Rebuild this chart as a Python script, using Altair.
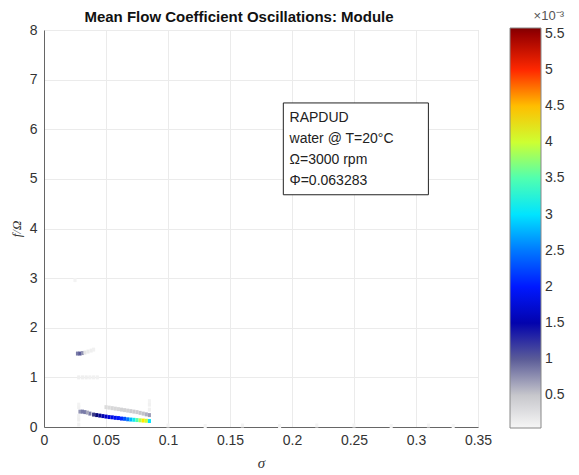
import altair as alt
import pandas as pd

# ---- data (values in units of 1e-3) ----
main_sigma = [0.037, 0.040, 0.0425, 0.045, 0.0475, 0.050, 0.0525, 0.055, 0.0575, 0.060,
              0.0625, 0.065, 0.0675, 0.070, 0.0725, 0.075, 0.0775, 0.080, 0.0825, 0.085]
main_f = [0.27, 0.25, 0.24, 0.23, 0.22, 0.21, 0.20, 0.195, 0.185, 0.18,
          0.17, 0.165, 0.155, 0.15, 0.145, 0.14, 0.135, 0.13, 0.125, 0.12]
main_v = [0.9, 1.1, 1.3, 1.4, 1.5, 1.6, 1.7, 1.8, 1.9, 2.0,
          2.1, 2.3, 2.5, 2.8, 3.1, 3.5, 3.9, 4.3, 4.0, 3.0]

low_sigma = [0.029, 0.031, 0.033, 0.035]
low_f = [0.31, 0.31, 0.30, 0.29]
low_v = [0.8, 0.9, 0.9, 0.7]

upper_sigma = [0.050, 0.0525, 0.055, 0.0575, 0.060, 0.0625, 0.065, 0.0675, 0.070,
               0.0725, 0.075, 0.0775, 0.080, 0.0825, 0.085]
upper_f = [0.40, 0.39, 0.38, 0.37, 0.36, 0.35, 0.34, 0.33, 0.32,
           0.31, 0.30, 0.285, 0.27, 0.255, 0.24]
upper_v = [0.3, 0.3, 0.35, 0.35, 0.35, 0.4, 0.4, 0.4, 0.45,
           0.45, 0.45, 0.5, 0.55, 0.65, 0.75]

h15_sigma = [0.027, 0.029, 0.031, 0.033, 0.0355, 0.038, 0.040]
h15_f = [1.48, 1.48, 1.49, 1.50, 1.52, 1.54, 1.56]
h15_v = [0.9, 1.0, 0.8, 0.2, 0.15, 0.12, 0.1]

h10_sigma = [0.028, 0.031, 0.034, 0.037, 0.040, 0.043]
h10_f = [1.0, 1.0, 1.0, 1.0, 1.0, 1.0]
h10_v = [0.12, 0.12, 0.12, 0.1, 0.1, 0.1]

vert_sigma = [0.028, 0.028, 0.028, 0.028, 0.028, 0.085, 0.085, 0.085, 0.025]
vert_f = [0.05, 0.15, 0.22, 0.40, 0.45, 0.35, 0.45, 0.52, 2.96]
vert_v = [0.1, 0.12, 0.1, 0.1, 0.08, 0.1, 0.1, 0.08, 0.08]

base_sigma = [0.10, 0.13, 0.16, 0.19, 0.22, 0.25, 0.28, 0.31, 0.33]
base_f = [0.03, 0.02, 0.03, 0.02, 0.03, 0.03, 0.02, 0.03, 0.02]
base_v = [0.08, 0.07, 0.08, 0.07, 0.08, 0.07, 0.07, 0.07, 0.06]

x_ticks = [0, 0.05, 0.1, 0.15, 0.2, 0.25, 0.3, 0.35]
y_ticks = [0, 1, 2, 3, 4, 5, 6, 7, 8]
cbar_ticks = [0.5, 1, 1.5, 2, 2.5, 3, 3.5, 4, 4.5, 5, 5.5]

cmap_stops = [0.05, 0.3, 0.55, 0.85, 1.1, 1.3, 1.6, 2.0, 2.5, 3.0, 3.5, 3.85, 4.2, 4.6, 5.0, 5.3, 5.58]
cmap_colors = ["#f6f6f6", "#dcdcdc", "#c2c2c8", "#8a8cb0", "#3c3c88", "#0a0a78", "#0000c8", "#0018ff",
               "#0078ff", "#00e4ff", "#50ffb0", "#a8ff58", "#ffff00", "#ffa800", "#ff2800", "#d40000", "#800000"]

info_lines = ["RAPDUD", "water @ T=20°C", "Ω=3000 rpm", "Φ=0.063283"]
info_f = [6.23, 5.81, 5.38, 4.96]

sig = main_sigma + low_sigma + upper_sigma + h15_sigma + h10_sigma + vert_sigma + base_sigma
ff = main_f + low_f + upper_f + h15_f + h10_f + vert_f + base_f
vv = main_v + low_v + upper_v + h15_v + h10_v + vert_v + base_v
df = pd.DataFrame({"sigma": sig, "f": ff, "v": vv})

FONT = "Liberation Sans"

heat = alt.Chart(df).transform_calculate(
    x1="datum.sigma - 0.00125", x2="datum.sigma + 0.00125",
    y1="datum.f - 0.04", y2="datum.f + 0.04",
).mark_rect(strokeWidth=0).encode(
    x=alt.X("x1:Q", scale=alt.Scale(domain=[0, 0.35], nice=False, zero=False),
            axis=alt.Axis(values=x_ticks, format="~g", title="σ", grid=True,
                          gridColor="#ebebeb", domainColor="#666666", ticks=False,
                          labelFontSize=14, labelColor="#333333", labelPadding=6,
                          labelFont=FONT, titleFont="Liberation Serif", titleFontStyle="italic",
                          titleFontWeight="normal", titleFontSize=15, titleColor="#333333",
                          titlePadding=8, labelFlush=False)),
    x2="x2:Q",
    y=alt.Y("y1:Q", scale=alt.Scale(domain=[0, 8], nice=False, zero=False),
            axis=alt.Axis(values=y_ticks, format="~g", title="f/Ω", grid=True,
                          gridColor="#ebebeb", domainColor="#666666", ticks=False,
                          labelFontSize=14, labelColor="#333333", labelPadding=7,
                          labelFont=FONT, titleFont="Liberation Serif", titleFontStyle="italic",
                          titleFontWeight="normal", titleFontSize=13, titleColor="#333333",
                          titlePadding=6, labelFlush=False)),
    y2="y2:Q",
    color=alt.Color("v:Q", scale=alt.Scale(domain=cmap_stops, range=cmap_colors, interpolate="rgb"),
                    legend=alt.Legend(orient="none", legendX=466, legendY=-20, direction="vertical",
                                      gradientLength=400, gradientThickness=31,
                                      gradientStrokeColor="#888888", gradientStrokeWidth=1,
                                      values=cbar_ticks, format="~g", labelFontSize=14,
                                      labelColor="#333333", labelFont=FONT, labelOffset=4,
                                      title="×10⁻³", titleFont=FONT, titleFontSize=13,
                                      titleFontWeight="normal", titleColor="#555555",
                                      titleAnchor="end", titlePadding=5)),
)

box_df = pd.DataFrame({"a": [0.193], "b": [0.310], "c": [4.68], "d": [6.53]})
box = alt.Chart(box_df).mark_rect(fill="white", stroke="#222222", strokeWidth=1).encode(
    x="a:Q", x2="b:Q", y="c:Q", y2="d:Q")

txt_df = pd.DataFrame({"s": [0.198] * 4, "f": info_f, "t": info_lines})
txt = alt.Chart(txt_df).mark_text(align="left", baseline="middle", fontSize=14, font=FONT,
                                  color="#222222").encode(
    x="s:Q", y="f:Q", text="t:N")

chart = alt.layer(heat, box, txt).properties(
    width=434, height=397,
    title=alt.TitleParams("Mean Flow Coefficient Oscillations: Module", fontSize=15,
                          font=FONT, fontWeight="bold", color="#111111", dx=-22, offset=-15),
    autosize=alt.AutoSizeParams(type="none"),
    padding={"left": 44, "top": 30, "right": 101, "bottom": 48},
).configure_view(stroke=None).configure(background="white")

chart.save("out.html", embed_options={"renderer": "svg", "actions": False})
